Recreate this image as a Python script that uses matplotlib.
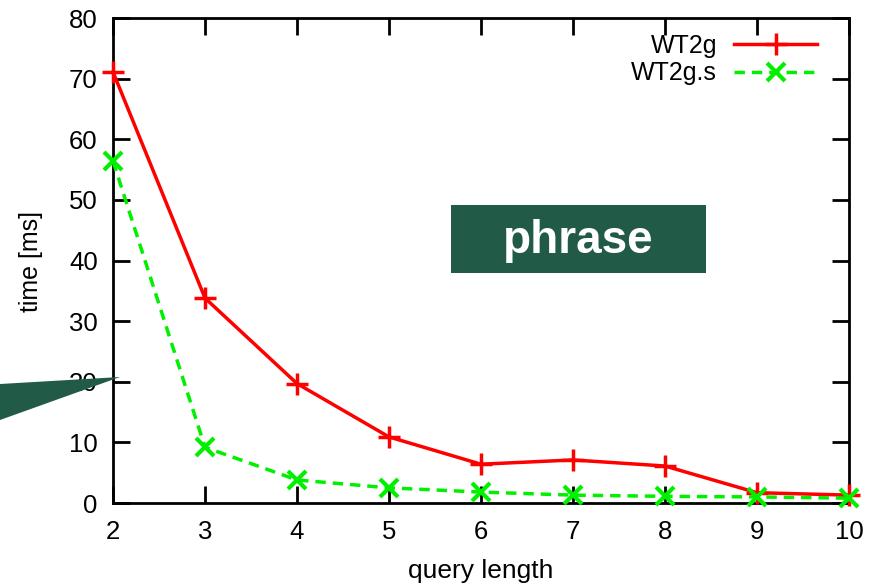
import matplotlib
matplotlib.use("Agg")
import matplotlib.pyplot as plt
from matplotlib.patches import Polygon, Rectangle

# query length vs. time
query_len = [2, 3, 4, 5, 6, 7, 8, 9, 10]
wt2g = [71.1, 33.8, 19.7, 10.9, 6.4, 7.1, 6.1, 1.7, 1.3]
wt2g_s = [56.4, 9.2, 3.8, 2.5, 1.8, 1.3, 1.1, 1.0, 0.8]

plt.rcParams["font.family"] = ["Liberation Sans", "DejaVu Sans"]

fig = plt.figure(figsize=(8.72, 5.87), dpi=100)
ax = fig.add_axes([0.1296, 0.1431, 0.8440, 0.8262])

ax.plot(query_len, wt2g, color="#ff0000", linewidth=2.5, marker="+",
        markersize=16, markeredgewidth=2.5, label="WT2g", clip_on=False, zorder=3)
ax.plot(query_len, wt2g_s, color="#00f000", linewidth=2.5, linestyle=(0, (3, 2)),
        marker="x", markersize=13, markeredgewidth=3, label="WT2g.s",
        clip_on=False, zorder=3)

ax.set_xlim(2, 10)
ax.set_ylim(0, 80)
ax.set_xticks(query_len)
ax.set_yticks(range(0, 81, 10))
ax.tick_params(direction="in", length=12, width=2, labelsize=18.5,
               top=True, right=True)
ax.tick_params(axis="x", pad=12)
ax.tick_params(axis="y", pad=11)
for s in ax.spines.values():
    s.set_linewidth(2)
ax.set_xlabel("query length", fontsize=19, labelpad=11)
ax.set_ylabel("time [ms]", fontsize=18)
ax.yaxis.set_label_coords(-0.095, 0.497)

ax.legend(loc="upper right", markerfirst=False, frameon=False, fontsize=18,
          handlelength=3.3, handletextpad=0.7, labelspacing=0.15,
          borderaxespad=0, borderpad=0, bbox_to_anchor=(0.9565, 0.968))

# label box
fig.patches.append(Rectangle((451 / 872, 1 - 273 / 587), 255 / 872, 68 / 587,
                             transform=fig.transFigure, facecolor="#225a48",
                             edgecolor="none", zorder=5))
fig.text(578 / 872, 1 - 241 / 587, "phrase", color="white", fontsize=33,
         fontweight="bold", ha="center", va="center", zorder=6)

# callout wedge
fig.patches.append(Polygon([(0, 1 - 384 / 587), (120 / 872, 1 - 377 / 587),
                            (0, 1 - 420 / 587)], closed=True,
                           transform=fig.transFigure, facecolor="#225a48",
                           edgecolor="none", zorder=5))

fig.savefig("out.png", dpi=100)
